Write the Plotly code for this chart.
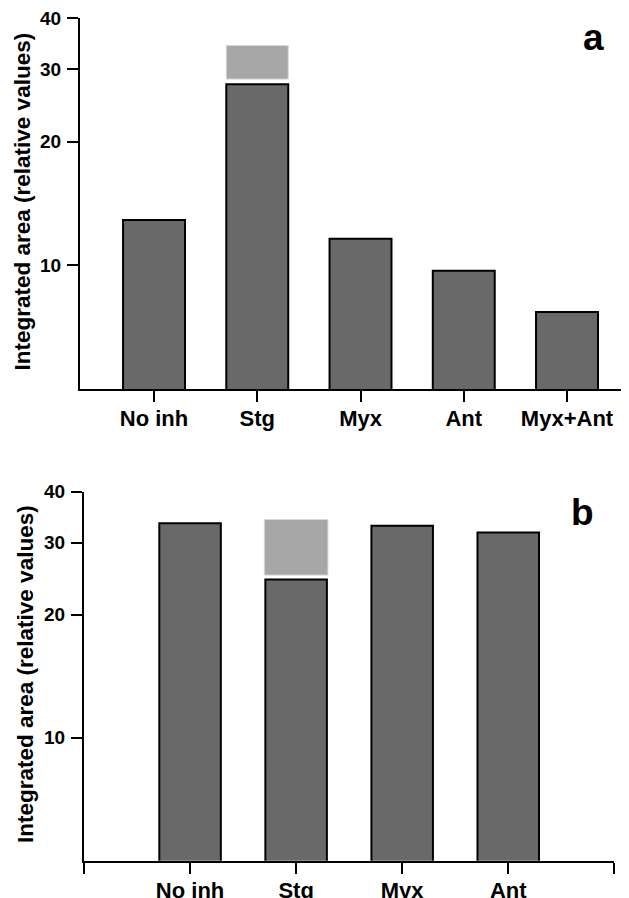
import plotly.graph_objects as go

W, H = 629, 898
OFF = 8  # page body margin offset in browser

# ---- data ----
cats_a = ["No inh", "Stg", "Myx", "Ant", "Myx+Ant"]
vals_a = [12.9, 27.6, 11.6, 9.7, 7.7]
stg_box_a = [28.4, 34.3]   # light grey range (low, high) for Stg

cats_b = ["No inh", "Stg", "Myx", "Ant"]
vals_b = [33.5, 24.4, 33.0, 31.8]
stg_box_b = [25.0, 34.2]

ytick_vals = [10, 20, 30, 40]
ytick_text = ["10", "20", "30", "40"]
ytitle = "Integrated area (relative values)"

DARK = "#696969"
LIGHT = "#a7a7a7"
FONT = "Liberation Sans"

fig = go.Figure()

xa = list(range(len(cats_a)))
xb = list(range(len(cats_b)))

fig.add_trace(go.Bar(x=xa, y=vals_a, width=0.6, marker=dict(color=DARK, line=dict(color="black", width=2)),
                     xaxis="x", yaxis="y", showlegend=False))
fig.add_trace(go.Bar(x=[1], y=[stg_box_a[1] - stg_box_a[0]], base=[stg_box_a[0]], width=0.6,
                     marker=dict(color=LIGHT, line=dict(color="#d8d8d8", width=1)),
                     xaxis="x", yaxis="y", showlegend=False))

fig.add_trace(go.Bar(x=xb, y=vals_b, width=0.58, marker=dict(color=DARK, line=dict(color="black", width=2)),
                     xaxis="x2", yaxis="y2", showlegend=False))
fig.add_trace(go.Bar(x=[1], y=[stg_box_b[1] - stg_box_b[0]], base=[stg_box_b[0]], width=0.6,
                     marker=dict(color=LIGHT, line=dict(color="#d8d8d8", width=1)),
                     xaxis="x2", yaxis="y2", showlegend=False))


def px_x(p):
    return (p - OFF) / W


def px_y(p):
    return 1 - (p - OFF) / H


tickfont_y = dict(family=FONT, size=19, color="black", weight="bold")
tickfont_x = dict(family=FONT, size=22, color="black", weight="bold")

common_y = dict(type="log", range=[0.69897, 1.6021], tickvals=ytick_vals, ticktext=ytick_text,
                ticks="outside", ticklen=11, tickwidth=2, tickcolor="black",
                showline=True, linecolor="black", linewidth=2, showgrid=False, zeroline=False,
                tickfont=tickfont_y, ticklabelstandoff=2, automargin=False,
                ticklabeloverflow="allow")
common_x = dict(ticks="outside", ticklen=11, tickwidth=2, tickcolor="black",
                showline=True, linecolor="black", linewidth=2, showgrid=False, zeroline=False,
                tickfont=tickfont_x, ticklabelstandoff=-2, automargin=False,
                ticklabeloverflow="allow")

a_right = (W + OFF - 154.0) / 103.25

fig.update_layout(
    width=W, height=H,
    margin=dict(l=0, r=0, t=0, b=0, autoexpand=False),
    paper_bgcolor="white", plot_bgcolor="white",
    barmode="overlay",
    xaxis=dict(domain=[px_x(80), 1.0], range=[-0.717, a_right], tickvals=xa, ticktext=cats_a,
               anchor="y", **common_x),
    yaxis=dict(domain=[px_y(389), px_y(18)], anchor="x", **common_y),
    xaxis2=dict(domain=[px_x(84), px_x(614.3)], range=[-1, 4], tickvals=[-1] + xb + [4],
                ticktext=[""] + cats_b + [""], anchor="y2", **common_x),
    yaxis2=dict(domain=[px_y(860.7), px_y(491.7)], anchor="x2", **common_y),
    annotations=[
        dict(text=ytitle, textangle=-90, x=px_x(22), y=px_y(201.5), xref="paper", yref="paper",
             xanchor="center", yanchor="middle", showarrow=False,
             font=dict(family=FONT, size=22.5, color="black", weight="bold")),
        dict(text=ytitle, textangle=-90, x=px_x(25), y=px_y(674), xref="paper", yref="paper",
             xanchor="center", yanchor="middle", showarrow=False,
             font=dict(family=FONT, size=22.5, color="black", weight="bold")),
        dict(text="a", x=px_x(593), y=px_y(38), xref="paper", yref="paper",
             xanchor="center", yanchor="middle", showarrow=False,
             font=dict(family=FONT, size=37, color="black", weight="bold")),
        dict(text="b", x=px_x(582), y=px_y(512), xref="paper", yref="paper",
             xanchor="center", yanchor="middle", showarrow=False,
             font=dict(family=FONT, size=37, color="black", weight="bold")),
    ],
)

fig.write_html("out.html")
